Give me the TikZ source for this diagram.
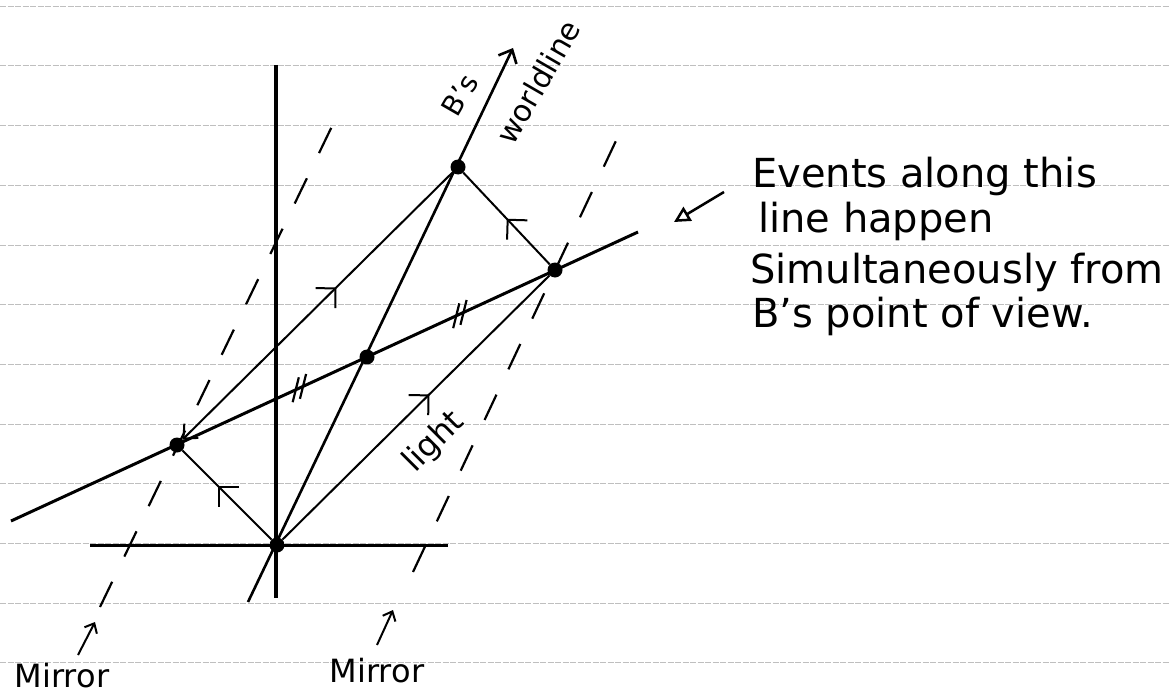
\documentclass[tikz,border=0pt]{standalone}
\usepackage{fontspec}
\setmainfont{DejaVu Sans}
\usepackage{tikz}
\usetikzlibrary{arrows.meta, decorations.markings}
\tikzset{
    >={Straight Barb[length=11pt, width=20pt]},
    ruled/.style={
        draw=gray!50,
        line width=0.6pt,
        dash pattern=on 6pt off 1.5pt
    },
    axis/.style={
        line width=3pt
    },
    ray/.style={
        line width=2pt
    },
    mirrorline/.style={
        line width=2.2pt,
        dash pattern=on 28pt off 28pt
    },
    event/.style={
        circle,
        fill=black,
        inner sep=0pt,
        minimum size=15pt
    },
    midarrow/.style={
        postaction={decorate},
        decoration={markings,
            mark=at position #1 with {\arrow{Straight Barb[length=14pt, width=28pt, line width=2pt]}}}
    },
    tickmarks/.style={
        postaction={decorate},
        decoration={markings,
            mark=at position 0.46 with {\draw [line width=2.2pt] (-12pt,-10pt) -- (4pt,10pt) (-4pt,-10pt) -- (12pt,10pt);},
            mark=at position 0.716 with {\draw [line width=2.2pt] (-12pt,-10pt) -- (4pt,10pt) (-4pt,-10pt) -- (12pt,10pt);}}
    },
    pointer/.style={
        line width=2pt,
        -{Straight Barb[length=8pt, width=14pt]}
    },
    hand/.style={
        font=\fontsize{#1}{#1}\selectfont,
        inner sep=0pt
    }
}

\begin{document}
\begin{tikzpicture}[x=1pt, y=-1pt]
            % Page
            \useasboundingbox (0,0) rectangle (1170,693);

            % Ruled paper
            \foreach \k in {0,...,11}
                \draw [ruled] (0,6+59.7*\k) -- (1170,6+59.7*\k);

            % Events
            \node (origin) [event] at (277,545) {};
            \node (leftev) [event] at (177,445) {};
            \node (midev) [event] at (367,357) {};
            \node (rightev) [event] at (555,270) {};
            \node (topev) [event] at (458,167) {};

            % Ends of the lines
            \coordinate (vtop) at (276,65);
            \coordinate (vbot) at (276,598);
            \coordinate (hleft) at (90,545);
            \coordinate (hright) at (448,545);
            \coordinate (wlbot) at (248,602);
            \coordinate (wltop) at (513,48);
            \coordinate (simleft) at (11,521);
            \coordinate (simright) at (638,232);
            \coordinate (mirLbot) at (100,607);
            \coordinate (mirLtop) at (335,120);
            \coordinate (mirRbot) at (413,572);
            \coordinate (mirRtop) at (622,128);

            % Axes
            \draw [axis, line width=4.5pt] (vtop) -- (vbot);
            \draw [axis] (hleft) -- (hright);

            % Mirrors
            \draw [mirrorline] (mirLbot) -- (mirLtop);
            \draw [mirrorline] (mirRbot) -- (mirRtop);

            % Worldline and simultaneity line
            \draw [axis, line width=2.6pt, ->] (wlbot) -- (wltop);
            \draw [axis, tickmarks] (simleft) -- (simright);

            % Light
            \path [ray]
                (origin) edge [midarrow=0.6] (leftev)
                (origin) edge [midarrow=0.55] (rightev)
                (rightev) edge [midarrow=0.5] (topev)
                (leftev) edge [<-, midarrow=0.57] (topev);

            % Labels
            \node (bs) [hand=28, rotate=60] at (460,95) {B's};
            \node (wl) [hand=30, rotate=60] at (538,82) {worldline};
            \node (lightlab) [hand=32, rotate=45] at (434,442) {light};
            \node (mirL) [hand=32, anchor=base] at (62,687) {Mirror};
            \node (mirR) [hand=32, anchor=base] at (377,682) {Mirror};
            \node (note1) [hand=40, anchor=base west] at (752,187) {Events along this};
            \node (note2) [hand=40, anchor=base west] at (758,232) {line happen};
            \node (note3) [hand=40, anchor=base west] at (750,283) {Simultaneously from};
            \node (note4) [hand=40, anchor=base west] at (752,327) {B's point of view.};

            % Pointers
            \coordinate (mirLtail) at (78,655);
            \coordinate (mirLhead) at (95,622);
            \coordinate (mirRtail) at (377,645);
            \coordinate (mirRhead) at (393,610);
            \coordinate (notetail) at (724,192);
            \coordinate (notehead) at (674,222);
            \draw [pointer] (mirLtail) -- (mirLhead);
            \draw [pointer] (mirRtail) -- (mirRhead);
            \draw [line width=2.5pt, -{Triangle[open, length=16pt, width=16pt]}] (notetail) -- (notehead);
        \end{tikzpicture}
\end{document}
